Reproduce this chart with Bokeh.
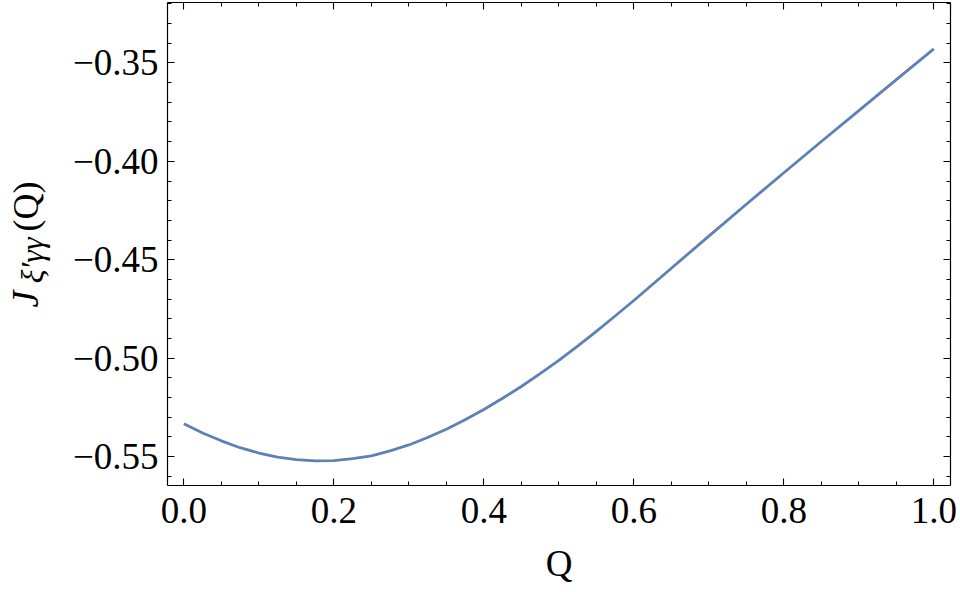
import math
from bokeh.plotting import figure
from bokeh.layouts import row
from bokeh.models import (LinearAxis, SingleIntervalTicker, CustomJSTickFormatter, Range1d)
from bokeh.core.properties import value
from bokeh.embed import file_html
from bokeh.resources import INLINE

# Data
q_vals = [0.000, 0.025, 0.050, 0.075, 0.100, 0.125, 0.150, 0.175, 0.200, 0.225,
          0.250, 0.275, 0.300, 0.325, 0.350, 0.375, 0.400, 0.425, 0.450, 0.475,
          0.500, 0.525, 0.550, 0.575, 0.600, 0.650, 0.700, 0.750, 0.800, 0.850,
          0.900, 0.950, 1.000]
j_vals = [-0.5333, -0.5380, -0.5420, -0.5455, -0.5482, -0.5503, -0.5516, -0.5522,
          -0.5521, -0.5511, -0.5496, -0.5471, -0.5441, -0.5403, -0.5361, -0.5313,
          -0.5261, -0.5204, -0.5144, -0.5079, -0.5011, -0.4939, -0.4864, -0.4786,
          -0.4707, -0.4543, -0.4380, -0.4218, -0.4058, -0.3899, -0.3742, -0.3585,
          -0.3429]

x_label = "Q"
y_label_main = "J"
y_label_sub = "ξ′γγ"
y_label_tail = "(Q)"

FONT = "Liberation Serif"
LINE_COLOR = "#5E81B5"

X0, X1 = -0.0218, 1.0222
Y0, Y1 = -0.5647, -0.3193
LAB_W = 60

p = figure(width=960 - LAB_W, height=592, output_backend="svg", toolbar_location=None,
           x_range=Range1d(X0, X1), y_range=Range1d(Y0, Y1),
           min_border_left=167 - LAB_W, min_border_right=10, min_border_top=2,
           min_border_bottom=107)
p.xgrid.visible = False
p.ygrid.visible = False
p.outline_line_color = None
p.background_fill_color = "white"
p.border_fill_color = "white"

p.line(q_vals, j_vals, line_color=LINE_COLOR, line_width=2.8, line_join="round")

def style_axis(ax, labels=True):
    ax.axis_line_color = "black"
    ax.axis_line_width = 1.2
    ax.major_tick_line_color = "black"
    ax.minor_tick_line_color = "black"
    ax.major_tick_line_width = 1.1
    ax.minor_tick_line_width = 1.0
    ax.major_tick_in = 7
    ax.major_tick_out = 0
    ax.minor_tick_in = 4
    ax.minor_tick_out = 0
    if labels:
        ax.major_label_text_font = FONT
        ax.major_label_text_font_size = "37px"
        ax.major_label_text_color = "black"
    else:
        ax.axis_label = None
        ax.major_label_text_font_size = "0px"
        ax.major_label_standoff = 0

xfmt = CustomJSTickFormatter(code="return tick.toFixed(1);")
yfmt = CustomJSTickFormatter(code="return tick.toFixed(2).replace('-', '\\u2212');")
blank = CustomJSTickFormatter(code="return '';")

xa = p.xaxis[0]
xa.ticker = SingleIntervalTicker(interval=0.2, num_minor_ticks=4)
xa.formatter = xfmt
style_axis(xa)
xa.major_label_standoff = 12
xa.axis_label = x_label
xa.axis_label_text_font = FONT
xa.axis_label_text_font_size = "37px"
xa.axis_label_text_font_style = "normal"
xa.axis_label_text_color = "black"
xa.axis_label_standoff = 17

ya = p.yaxis[0]
ya.ticker = SingleIntervalTicker(interval=0.05, num_minor_ticks=5)
ya.formatter = yfmt
style_axis(ya)
ya.axis_label = None
ya.major_label_standoff = 9

top = LinearAxis(ticker=SingleIntervalTicker(interval=0.2, num_minor_ticks=4), formatter=blank)
style_axis(top, labels=False)
p.add_layout(top, "above")
right = LinearAxis(ticker=SingleIntervalTicker(interval=0.05, num_minor_ticks=5), formatter=blank)
style_axis(right, labels=False)
p.add_layout(right, "right")

# Narrow side panel holding the rotated y-axis title; its frame is aligned with
# the main frame, so it shares the main plot's y range
lab = figure(width=LAB_W, height=592, output_backend="svg", toolbar_location=None,
             x_range=Range1d(0, LAB_W), y_range=Range1d(Y0, Y1),
             x_axis_location=None, y_axis_location=None, min_border=0)
lab.grid.visible = False
lab.outline_line_color = None
lab.background_fill_color = "white"
lab.border_fill_color = "white"

rot = dict(angle=math.pi / 2, text_font=value(FONT), text_color="black",
           text_baseline="middle", text_align="left")
lab.text(x=[24], y=[-0.4742], text=[y_label_main], text_font_size=value("38px"),
         text_font_style="italic", **rot)
lab.text(x=[31], y=[-0.4620], text=[y_label_sub], text_font_size=value("32px"),
         text_font_style="italic", **rot)
lab.text(x=[25], y=[-0.4356], text=[y_label_tail], text_font_size=value("36px"),
         text_font_style="normal", **rot)

layout = row(lab, p, spacing=0)
open("out.html", "w").write(file_html(layout, INLINE))
